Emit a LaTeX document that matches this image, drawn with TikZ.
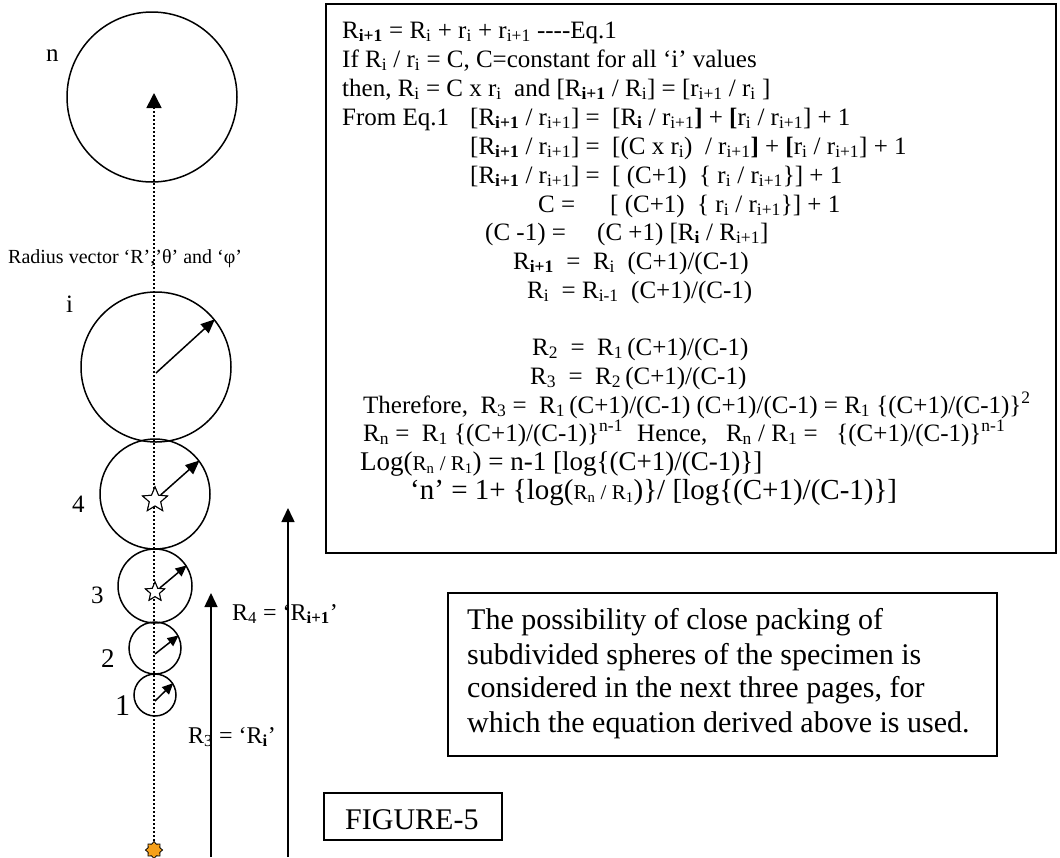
\documentclass[tikz,border=0pt]{standalone}
\usepackage{fontspec}
\setmainfont{Liberation Serif}
\usetikzlibrary{arrows.meta,shapes.geometric}
\newcommand\dn[1]{\textsubscript{#1}}
\newcommand\dnb[1]{\textsubscript{\textbf{#1}}}
\newcommand\up[1]{\textsuperscript{#1}}
\newcommand\pxs[1]{\fontsize{#1}{#1}\selectfont}
\newcommand\eqfont{\fontsize{25}{28.75}\selectfont}
\definecolor{starorange}{RGB}{246,160,26}
\begin{document}
\begin{tikzpicture}[x=1pt,y=-1pt]
\tikzset{
  ball/.style={circle, draw, line width=1.5pt, inner sep=0pt, minimum size=#1},
  rad/.style={line width=1.5pt, -{Triangle[length=14pt,width=12pt]}},
  radsmall/.style={line width=1.5pt, -{Triangle[length=11pt,width=10pt]}},
  longarr/.style={line width=1.5pt, -{Triangle[length=14pt,width=13pt]}},
  dotline/.style={line width=1.6pt, dash pattern=on 2pt off 2pt, -{Triangle[length=15pt,width=15pt]}},
  lbl/.style={anchor=base west, inner sep=0pt},
  eqt/.style={anchor=base west, inner sep=0pt, font=\eqfont},
  boxed/.style={draw, line width=1.8pt, inner sep=0pt, anchor=north west},
  wstar/.style={star, star points=5, star point ratio=2.2, draw, fill=white, line width=1pt, inner sep=0pt, minimum size=#1},
  ostar/.style={star, star points=8, star point ratio=1.35, draw, fill=starorange, line width=0.8pt, inner sep=0pt, minimum size=17pt},
}
\useasboundingbox (0,0) rectangle (1060,857);
\fill[white] (0,0) rectangle (1060,857);

% dotted axis
\node[ostar] (os) at (154,850) {};
\coordinate (ntip) at (154,93);

% spheres
\node[ball=170pt] (cn) at (152,97) {};
\node[ball=150pt] (ci) at (156,367) {};
\node[ball=110pt] (c4) at (155,494) {};
\node[ball=74pt]  (c3) at (155,586) {};
\node[ball=52pt]  (c2) at (155,648) {};
\node[ball=42pt]  (c1) at (155,695) {};

\draw[dotline] (os) -- (ntip);

% radius arrows
\coordinate (si) at (156,373);
\coordinate (s2) at (155,654);
\coordinate (s1) at (155,701);
\draw[rad] (si) -- (ci.39);
\node[wstar=26pt] (st4) at (155,500) {};
\node[wstar=20pt] (st3) at (155,592) {};
\draw[rad] (st4) -- (c4.37);
\draw[radsmall] (st3) -- (c3.33);
\draw[radsmall] (s2) -- (c2.28);
\draw[radsmall] (s1) -- (c1.33);
\node[wstar=26pt] at (st4) {};
\node[wstar=20pt] at (st3) {};

% long vectors
\coordinate (r3s) at (211,857);
\coordinate (r3e) at (211,593);
\coordinate (r4s) at (288,857);
\coordinate (r4e) at (288,508);
\draw[longarr] (r3s) -- (r3e);
\draw[longarr] (r4s) -- (r4e);

% left labels
\node[lbl, font=\pxs{25}] (ln) at (46,61) {n};
\node[lbl, font=\pxs{25}] (li) at (66,312) {i};
\node[lbl, font=\pxs{25}] (l4) at (72,512) {4};
\node[lbl, font=\pxs{25}] (l3) at (91,603) {3};
\node[lbl, font=\pxs{27}] (l2) at (101,667) {2};
\node[lbl, font=\pxs{30}] (l1) at (115,715) {1};
\node[lbl, font=\pxs{20}] (rv) at (8,263) {Radius vector ‘R’,’θ’ and ‘φ’};
\node[lbl, font=\pxs{24}] (lr4) at (232,620) {R\dn{4} = ‘R\dnb{i+1}’};
\node[lbl, font=\pxs{24}] (lr3) at (188,743) {R\dn{3} = ‘R\dnb{i}’};

% equation box
\node[boxed, minimum width=730pt, minimum height=549pt] (eqbox) at (325,3) {};
\node[eqt] (e1) at (342,38) {R\dnb{i+1} = R\dn{i} + r\dn{i} + r\dn{i+1} -{}-{}-{}-Eq.1};
\node[eqt] (e2) at (342,67) {If R\dn{i} / r\dn{i} = C, C=constant for all ‘i’ values};
\node[eqt] (e3) at (342,96) {then, R\dn{i} = C x r\dn{i}~ and [R\dnb{i+1} / R\dn{i}] = [r\dn{i+1} / r\dn{i} ]};
\node[eqt] (e4a) at (342,125) {From Eq.1};
\node[eqt] (e4b) at (470,125) {[R\dnb{i+1} / r\dn{i+1}] =};
\node[eqt] (e4c) at (612,125) {[R\dnb{i} / r\dn{i+1}\textbf{]} + \textbf{[}r\dn{i} / r\dn{i+1}] + 1};
\node[eqt] (e5b) at (470,154) {[R\dnb{i+1} / r\dn{i+1}] =};
\node[eqt] (e5c) at (612,154) {[(C x r\dn{i})~ / r\dn{i+1}\textbf{]} + \textbf{[}r\dn{i} / r\dn{i+1}] + 1};
\node[eqt] (e6b) at (470,183) {[R\dnb{i+1} / r\dn{i+1}] =};
\node[eqt] (e6c) at (612,183) {[ (C+1)~ \{ r\dn{i} / r\dn{i+1}\}] + 1};
\node[eqt] (e7b) at (538,212) {C =};
\node[eqt] (e7c) at (610,212) {[ (C+1)~ \{ r\dn{i} / r\dn{i+1}\}] + 1};
\node[eqt] (e8b) at (485,240) {(C -1) =};
\node[eqt] (e8c) at (597,240) {(C +1) [R\dnb{i} / R\dn{i+1}]};
\node[eqt] (e9) at (513,269) {R\dnb{i+1} ~=~ R\dn{i} ~(C+1)/(C-1)};
\node[eqt] (e10) at (527,298) {R\dn{i} ~= R\dn{i-1} ~(C+1)/(C-1)};
\node[eqt] (e11) at (532,355) {R\dn{2} ~=~ R\dn{1}\,(C+1)/(C-1)};
\node[eqt] (e12) at (530,384) {R\dn{3} ~=~ R\dn{2}\,(C+1)/(C-1)};
\node[eqt] (e13) at (363,413) {Therefore,~ R\dn{3} =~ R\dn{1}\,(C+1)/(C-1) (C+1)/(C-1) = R\dn{1} \{(C+1)/(C-1)\}\up{2}};
\node[eqt] (e14a) at (363,441) {R\dn{n} =~ R\dn{1} \{(C+1)/(C-1)\}\up{n-1}};
\node[eqt] (e14b) at (637,441) {Hence,~~ R\dn{n} / R\dn{1} =~~ \{(C+1)/(C-1)\}\up{n-1}};
\node[eqt] (e15) at (360,470) {{\pxs{27}Log(}{\pxs{21}R\dn{n} / R\dn{1}}{\pxs{27}) = n-1 [log\{(C+1)/(C-1)\}]}};
\node[eqt] (e16) at (410,499) {{\pxs{29}‘n’ = 1+ \{log(}{\pxs{21}R\dn{n} / R\dn{1}}{\pxs{29})\}/ [log\{(C+1)/(C-1)\}]}};

% note box
\node[boxed, minimum width=549pt, minimum height=163pt] (pbox) at (447,592) {};
\node[lbl, font=\pxs{30}] (p1) at (467,629) {The possibility of close packing of};
\node[lbl, font=\pxs{30}] (p2) at (467,664) {subdivided spheres of the specimen is};
\node[lbl, font=\pxs{30}] (p3) at (467,697) {considered in the next three pages, for};
\node[lbl, font=\pxs{30}] (p4) at (467,732) {which the equation derived above is used.};

% figure caption
\node[boxed, minimum width=178pt, minimum height=47pt] (fbox) at (323,792) {};
\node[lbl, font=\pxs{30}] (ft) at (345,829) {FIGURE-5};
\end{tikzpicture}
\end{document}
